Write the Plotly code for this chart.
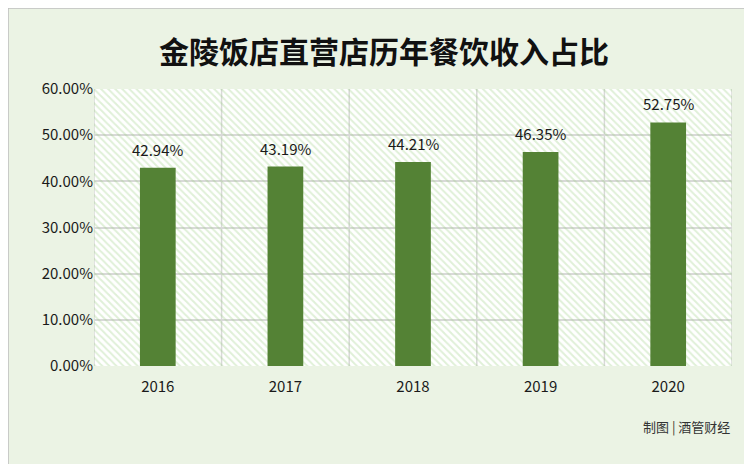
import plotly.graph_objects as go

years = ["2016", "2017", "2018", "2019", "2020"]
shares = [42.94, 43.19, 44.21, 46.35, 52.75]
labels = ["42.94%", "43.19%", "44.21%", "46.35%", "52.75%"]
y_ticks = [0, 10, 20, 30, 40, 50, 60]

FONT = "Noto Sans CJK SC, sans-serif"
pos = list(range(len(years)))

fig = go.Figure()

# hatched plot-area background: transparent bar with a diagonal pattern
fig.add_trace(go.Bar(
    x=[2], y=[60], width=[5],
    marker=dict(color="rgba(0,0,0,0)", line_width=0,
                pattern=dict(shape="\\", fgcolor="rgba(150,205,125,0.6)", bgcolor="rgba(0,0,0,0)",
                             size=5, solidity=0.4)),
    hoverinfo="skip", showlegend=False,
))

fig.add_trace(go.Bar(
    x=pos, y=shares, width=0.28,
    marker=dict(color="#548235", line_width=0),
    showlegend=False, customdata=years,
    hovertemplate="%{customdata}: %{y:.2f}%<extra></extra>",
))

fig.update_layout(
    width=752, height=464,
    paper_bgcolor="#ebf3e4", plot_bgcolor="white",
    margin=dict(l=86, r=28, t=81, b=106),
    font=dict(family=FONT, color="#1a1a1a"),
    title=dict(text="<b>金陵饭店直营店历年餐饮收入占比</b>", x=0.5, xanchor="center",
               y=0.905, yanchor="middle", font=dict(size=30, color="#111")),
    xaxis=dict(range=[-0.5, 4.5], tickvals=pos, ticktext=years, showgrid=False,
               tickfont=dict(size=15), ticks="", ticklabelstandoff=10, zeroline=False),
    yaxis=dict(range=[0, 60], tickvals=y_ticks,
               ticktext=[f"{v:.2f}%" for v in y_ticks], tickfont=dict(size=15),
               showgrid=True, gridcolor="#d9d9d9", gridwidth=1.5, zeroline=False),
    barmode="overlay",
    shapes=[dict(type="rect", xref="paper", yref="paper", x0=-86/638, x1=1+28/638,
                 y0=-106/277, y1=1+81/277, line=dict(color="#bfbfbf", width=1.5),
                 fillcolor="rgba(0,0,0,0)", layer="above")]
    + [dict(type="line", xref="x", yref="y", x0=i - 0.5, x1=i - 0.5, y0=0, y1=60,
            line=dict(color="#d9d9d9", width=1.5), layer="below") for i in range(len(years) + 1)],
    annotations=[dict(text="制图 | 酒管财经", xref="paper", yref="paper", x=1.0, y=-0.26,
                      xanchor="right", showarrow=False, font=dict(size=13, color="#333"))]
    + [dict(text=t, x=x, y=v, xref="x", yref="y", yanchor="bottom", yshift=6,
            showarrow=False, font=dict(size=15, color="#1a1a1a"))
       for x, v, t in zip(pos, shares, labels)],
)

fig.write_html("out.html")
